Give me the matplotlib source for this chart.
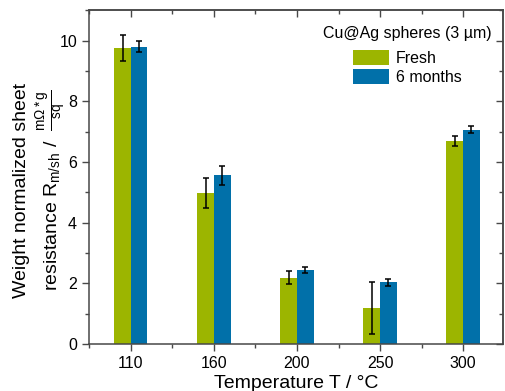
import numpy as np
import matplotlib.pyplot as plt
from matplotlib.ticker import MultipleLocator

plt.rcParams['font.family'] = ['Liberation Sans', 'DejaVu Sans']
plt.rcParams['mathtext.fontset'] = 'custom'
plt.rcParams['mathtext.rm'] = 'Liberation Sans'
plt.rcParams['mathtext.it'] = 'Liberation Sans'

# data
temps = ['110', '160', '200', '250', '300']
fresh = [9.74, 4.97, 2.19, 1.19, 6.70]
fresh_err = [0.43, 0.50, 0.21, 0.86, 0.16]
aged = [9.80, 5.56, 2.43, 2.03, 7.06]
aged_err = [0.17, 0.31, 0.10, 0.11, 0.12]

green = '#9cb500'
blue = '#0170a9'
spine_col = '#484848'

fig = plt.figure(figsize=(5.05, 3.91), dpi=100)
ax = fig.add_axes([0.176, 0.120, 0.820, 0.854])

x = np.arange(len(temps))
w = 0.2
err_kw = dict(ecolor='black', elinewidth=1.1, capsize=2.3, capthick=1.1)
ax.bar(x - w / 2, fresh, w, yerr=fresh_err, color=green, label='Fresh',
       error_kw=err_kw, zorder=2)
ax.bar(x + w / 2, aged, w, yerr=aged_err, color=blue, label='6 months',
       error_kw=err_kw, zorder=2)

ax.set_xlim(-0.505, 4.48)
ax.set_ylim(0, 11)
ax.set_xticks(x)
ax.set_xticklabels(temps)
ax.xaxis.set_minor_locator(MultipleLocator(0.5))
ax.yaxis.set_major_locator(MultipleLocator(2))
ax.yaxis.set_minor_locator(MultipleLocator(1))

ax.tick_params(which='both', direction='out', labelsize=11.5, colors='black',
               top=False, right=False)
ax.tick_params(which='major', length=5, width=1, color=spine_col)
ax.tick_params(which='minor', length=3, width=1, color=spine_col)

# mirrored inward ticks on top and right
top = ax.secondary_xaxis('top')
top.set_xticks(x)
top.xaxis.set_minor_locator(MultipleLocator(0.5))
top.tick_params(which='both', direction='in', labeltop=False, color=spine_col, width=1)
top.tick_params(which='major', length=5)
top.tick_params(which='minor', length=3)
right = ax.secondary_yaxis('right')
right.yaxis.set_major_locator(MultipleLocator(2))
right.yaxis.set_minor_locator(MultipleLocator(1))
right.tick_params(which='both', direction='in', labelright=False, color=spine_col, width=1)
right.tick_params(which='major', length=5)
right.tick_params(which='minor', length=3)

for sp in list(ax.spines.values()) + [top.spines['top'], right.spines['right']]:
    sp.set_color(spine_col)
    sp.set_linewidth(1.1)

ax.set_xlabel('Temperature T / °C', fontsize=14, labelpad=3)

# two-line y label placed by hand
fig.text(22 / 505, 1 - 190 / 391, 'Weight normalized sheet', rotation=90,
         fontsize=14, ha='center', va='center')
fig.text(51 / 505, 1 - 190 / 391,
         r'resistance R$_{\mathrm{m/sh}}$ /  $\frac{\mathrm{m\Omega*g}}{\mathrm{sq}}$',
         rotation=90, fontsize=14, ha='center', va='center')

leg = ax.legend(title='Cu@Ag spheres (3 µm)', loc='upper right', frameon=False,
                bbox_to_anchor=(1.0, 0.985),
                fontsize=11.5, title_fontsize=11.5, handlelength=2.25, handleheight=1.1,
                borderaxespad=0.3, labelspacing=0.2, handletextpad=0.4)
leg._legend_box.sep = 6

fig.savefig('out.png', dpi=100)
